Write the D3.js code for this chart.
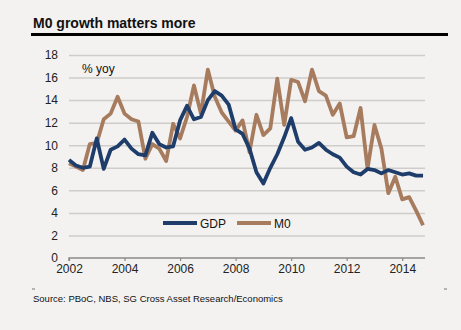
<!DOCTYPE html>
<html>
<head>
<meta charset="utf-8">
<script src="https://cdn.jsdelivr.net/npm/d3@7"></script>
<style>
  body { margin: 0; background: #f3f2f0; }
  text { font-family: "Liberation Sans", Arial, sans-serif; }
</style>
</head>
<body>
<div id="chart"></div>
<script>
// Quarterly points, 2002Q1 .. 2014Q4
var quarters = d3.range(52).map(function(i) { return 2002 + i / 4; });

// GDP growth, % yoy
var gdp = [8.7, 8.2, 8.0, 8.1, 10.6, 7.9, 9.6, 9.9,
           10.5, 9.7, 9.2, 9.1, 11.1, 10.1, 9.8, 9.9,
           12.2, 13.5, 12.3, 12.5, 14.0, 14.8, 14.4, 13.6,
           11.4, 11.0, 9.7, 7.6, 6.6, 8.0, 9.2, 10.7,
           12.4, 10.3, 9.6, 9.8, 10.2, 9.6, 9.2, 8.9,
           8.1, 7.6, 7.4, 7.9, 7.8, 7.5, 7.8, 7.6,
           7.4, 7.5, 7.3, 7.3];

// M0 growth, % yoy
var m0 = [8.4, 8.1, 7.8, 10.1, 10.2, 12.3, 12.8, 14.3,
          12.8, 12.3, 12.1, 8.8, 10.1, 9.7, 8.6, 11.9,
          10.6, 12.5, 15.3, 12.8, 16.7, 14.3, 12.9, 12.1,
          11.3, 12.2, 9.4, 12.7, 10.9, 11.5, 15.9, 11.8,
          15.8, 15.6, 13.9, 16.7, 14.8, 14.4, 12.7, 13.7,
          10.7, 10.8, 13.3, 7.9, 11.8, 9.7, 5.75, 7.2,
          5.2, 5.4, 4.2, 2.9];

var yTicks = [0, 2, 4, 6, 8, 10, 12, 14, 16, 18];
var xTicks = [2002, 2004, 2006, 2008, 2010, 2012, 2014];

var seriesNames = ["GDP", "M0"];
var colors = ["#1f3d6b", "#a77b5d"];

function init() {
    var w = 461;
    var h = 330;

    var svg = d3.select("#chart")
        .append("svg")
        .attr("width", w)
        .attr("height", h);

    var xScale = d3.scaleLinear()
        .domain([2002, 2014.82])
        .range([69, 425]);

    var yScale = d3.scaleLinear()
        .domain([0, 18])
        .range([258, 55]);

    // Title and rule under it
    svg.append("text")
        .attr("x", 33)
        .attr("y", 28)
        .style("font-size", "14px")
        .style("font-weight", "bold")
        .style("fill", "#111")
        .text("M0 growth matters more");

    svg.append("line")
        .attr("x1", 31).attr("x2", 448)
        .attr("y1", 34.5).attr("y2", 34.5)
        .style("stroke", "#000")
        .style("stroke-width", 3);

    // Horizontal gridlines + y labels
    var yAxis = d3.axisLeft(yScale)
        .tickValues(yTicks)
        .tickSize(-(425 - 69))
        .tickPadding(10);

    var gy = svg.append("g")
        .attr("transform", "translate(69,0)")
        .call(yAxis);
    gy.select(".domain").remove();
    gy.selectAll(".tick line")
        .style("stroke", function(d) { return d === 0 ? "none" : "#cfcdca"; })
        .style("stroke-width", 1.5);
    gy.selectAll(".tick text")
        .style("font-size", "12px")
        .style("fill", "#222")
        .attr("x", -11);

    // x axis along zero
    var xAxis = d3.axisBottom(xScale)
        .tickValues(xTicks)
        .tickFormat(d3.format("d"))
        .tickSize(3)
        .tickPadding(3);

    var gx = svg.append("g")
        .attr("transform", "translate(0," + yScale(0) + ")")
        .call(xAxis);
    gx.select(".domain")
        .attr("d", "M69,3V0H425")
        .style("stroke", "#8a8a8a")
        .style("stroke-width", 1.5);
    gx.selectAll(".tick line")
        .style("stroke", "#8a8a8a")
        .style("stroke-width", 1.2);
    gx.selectAll(".tick text")
        .style("font-size", "12px")
        .style("fill", "#222");

    svg.append("text")
        .attr("x", 82)
        .attr("y", 73)
        .style("font-size", "12px")
        .style("fill", "#111")
        .text("% yoy");

    // Lines
    var line = d3.line()
        .x(function(d, i) { return xScale(quarters[i]); })
        .y(function(d) { return yScale(d); });

    svg.selectAll(".series")
        .data([m0, gdp])
        .enter()
        .append("path")
        .attr("class", "series")
        .attr("d", line)
        .style("fill", "none")
        .style("stroke", function(d, i) { return i === 0 ? colors[1] : colors[0]; })
        .style("stroke-width", 3.8)
        .style("stroke-linejoin", "round");

    // Legend
    var legend = svg.selectAll(".legend")
        .data(seriesNames)
        .enter()
        .append("g")
        .attr("class", "legend")
        .attr("transform", function(d, i) {
            return "translate(" + (163 + i * 74) + "," + yScale(3.1) + ")";
        });

    legend.append("line")
        .attr("x1", 0).attr("x2", 34)
        .style("stroke", function(d, i) { return colors[i]; })
        .style("stroke-width", 4);

    legend.append("text")
        .attr("x", 37)
        .attr("y", 4.5)
        .style("font-size", "12px")
        .style("fill", "#111")
        .text(function(d) { return d; });

    // Source note
    svg.append("text")
        .attr("x", 33)
        .attr("y", 302)
        .style("font-size", "9.5px")
        .style("fill", "#111")
        .text("Source: PBoC, NBS, SG Cross Asset Research/Economics");

    // small corner marks
    [33, 445].forEach(function(x) {
        svg.append("line")
            .attr("x1", x - 1).attr("x2", x + 2)
            .attr("y1", 289).attr("y2", 289)
            .style("stroke", "#777")
            .style("stroke-width", 1);
    });
}

window.onload = init;
</script>
</body>
</html>
